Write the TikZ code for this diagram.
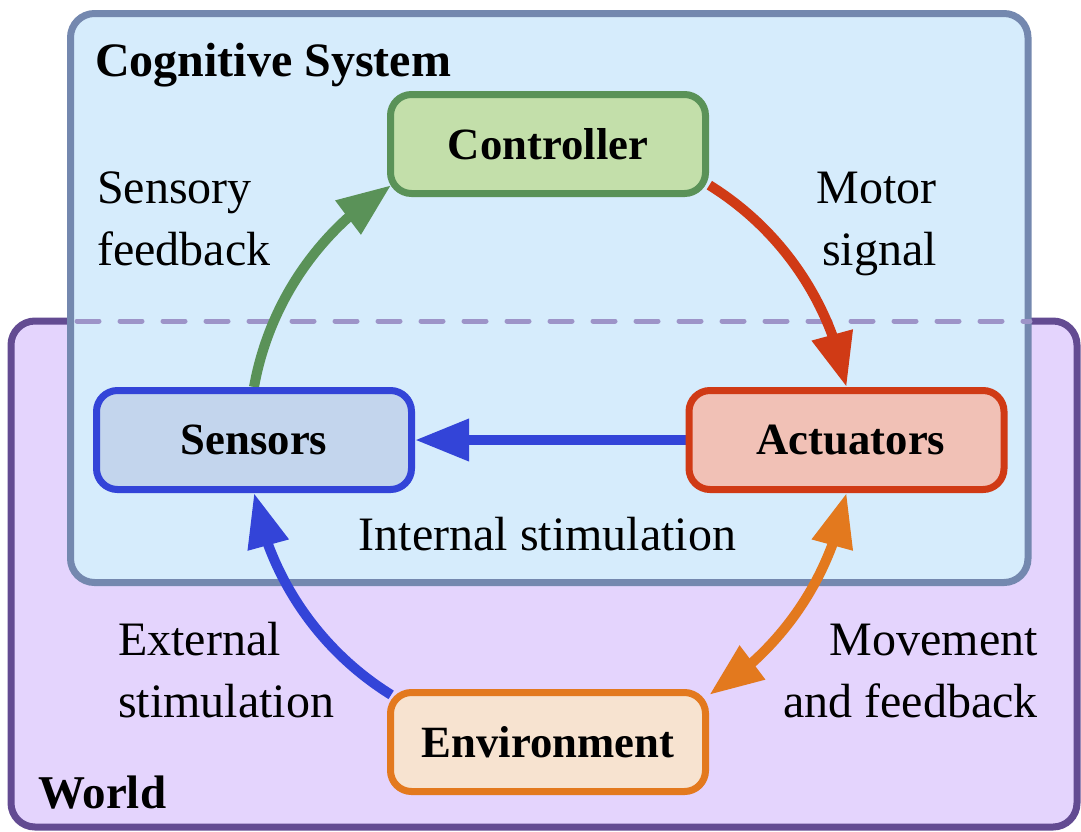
\documentclass[tikz,border=0pt]{standalone}
\usepackage{fontspec}
\setmainfont{Liberation Serif}
\usetikzlibrary{arrows.meta,bending}
\pgfdeclarelayer{back}
\pgfdeclarelayer{mid}
\pgfsetlayers{back,mid,main}
\definecolor{cogfill}{HTML}{D6ECFC}
\definecolor{cogdraw}{HTML}{7488AF}
\definecolor{worldfill}{HTML}{E4D4FD}
\definecolor{worlddraw}{HTML}{634B92}
\definecolor{dashc}{HTML}{9D94C8}
\definecolor{gfill}{HTML}{C3DFAA}
\definecolor{gdraw}{HTML}{5A9258}
\definecolor{bfill}{HTML}{C3D5ED}
\definecolor{bdraw}{HTML}{3344D8}
\definecolor{rfill}{HTML}{F1C1B6}
\definecolor{rdraw}{HTML}{D03A15}
\definecolor{ofill}{HTML}{F7E3D0}
\definecolor{odraw}{HTML}{E3791E}
\tikzset{
  >={Triangle[length=54pt,width=40pt]},
  region/.style={line width=7pt, rounded corners=24pt},
  unit/.style={rectangle, rounded corners=21pt, line width=7pt,
    minimum width=315pt, minimum height=99pt, inner sep=0pt,
    font=\fontsize{44.7pt}{50pt}\selectfont\bfseries},
  conn/.style={line width=10pt},
  lbl/.style={inner sep=0pt, font=\fontsize{48pt}{56pt}\selectfont},
  ttl/.style={inner sep=0pt, font=\fontsize{48pt}{56pt}\selectfont\bfseries}
}
\begin{document}
\begin{tikzpicture}[x=1pt,y=1pt]
\useasboundingbox (0,0) rectangle (1081,-831);
\begin{pgfonlayer}{back}
  \draw[region, fill=worldfill, draw=worlddraw] (11,-321) rectangle (1077,-827);
  \draw[region, fill=cogfill, draw=cogdraw] (70.5,-13.5) rectangle (1028,-582.5);
  \draw[dashc, line width=5pt, line cap=round, dash pattern=on 22pt off 21pt] (77,-321) -- (1030,-321);
\end{pgfonlayer}
\node[ttl, anchor=base west] (cogtitle) at (95,-76) {Cognitive System};
\node[ttl, anchor=base west, font=\fontsize{47pt}{56pt}\selectfont\bfseries] (worldtitle) at (38,-808) {World};

\node[unit, fill=gfill, draw=gdraw] (controller) at (548,-144) {Controller};
\node[unit, fill=bfill, draw=bdraw] (sensors) at (254,-440) {Sensors};
\node[unit, fill=rfill, draw=rdraw] (actuators) at (846.5,-440) {\hspace*{9pt}Actuators};
\node[unit, fill=ofill, draw=odraw] (environment) at (548,-742) {Environment};

\begin{pgfonlayer}{mid}
  \draw[conn, gdraw, ->] (sensors.north) arc[start angle=169.8, end angle=121.8, radius=300pt];
  \draw[conn, rdraw, <-] (actuators.north) arc[start angle=10.2, end angle=58.2, radius=300pt];
  \draw[conn, odraw, <->] (actuators.south) arc[start angle=-10.2, end angle=-58.2, radius=300pt];
  \draw[conn, bdraw, <-] (sensors.south) arc[start angle=-169.8, end angle=-121.8, radius=300pt];
  \draw[conn, bdraw, ->, line cap=round] (actuators.west) -- (sensors.east);
\end{pgfonlayer}

\node[lbl, anchor=base west] (sf1) at (97,-203) {Sensory};
\node[lbl, anchor=base west] (sf2) at (97,-265) {feedback};
\node[lbl, anchor=base east] (ms1) at (937,-203) {Motor};
\node[lbl, anchor=base east] (ms2) at (937,-265) {signal};
\node[lbl, anchor=base] (internal) at (547.5,-550) {Internal stimulation};
\node[lbl, anchor=base west] (es1) at (118,-655) {External};
\node[lbl, anchor=base west] (es2) at (118,-717) {stimulation};
\node[lbl, anchor=base east] (mf1) at (1038,-655) {Movement};
\node[lbl, anchor=base east] (mf2) at (1038,-717) {and feedback};
\end{tikzpicture}
\end{document}
